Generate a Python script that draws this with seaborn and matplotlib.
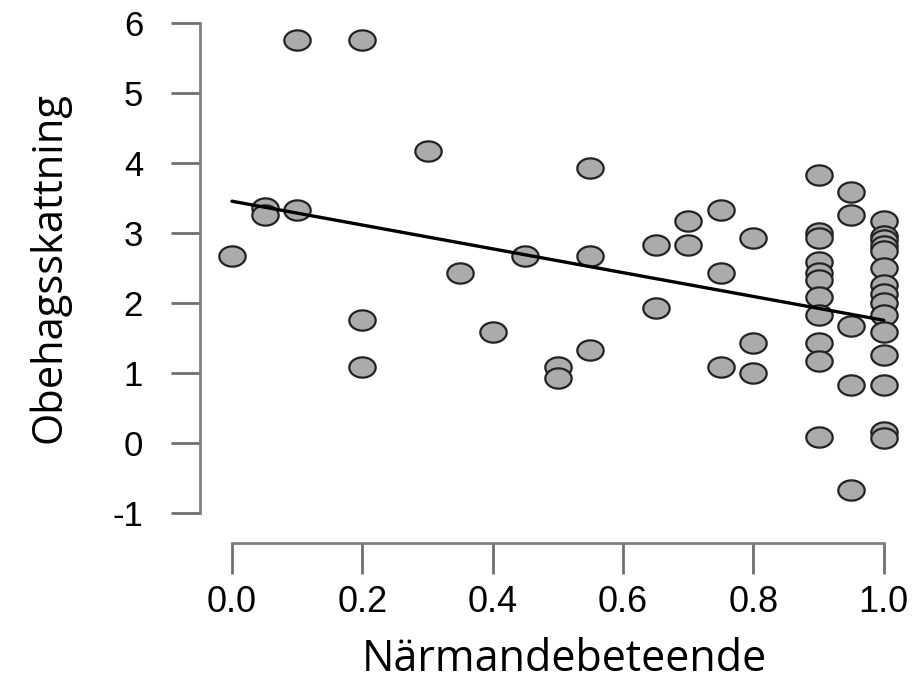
import numpy as np
import pandas as pd
import matplotlib
matplotlib.use("Agg")
import matplotlib.pyplot as plt
import seaborn as sns
from matplotlib.path import Path

# values
narmande = [0.0, 0.05, 0.05, 0.1, 0.1, 0.2, 0.2, 0.2, 0.3, 0.35, 0.4, 0.45,
            0.5, 0.5, 0.55, 0.55, 0.55, 0.65, 0.65, 0.7, 0.7, 0.75, 0.75, 0.75,
            0.8, 0.8, 0.8] + [0.9] * 11 + [0.95] * 5 + [1.0] * 15
obehag = [2.67, 3.36, 3.26, 5.75, 3.33, 5.75, 1.75, 1.08, 4.17, 2.42, 1.58, 2.67,
          1.08, 0.92, 3.92, 2.67, 1.33, 2.83, 1.92, 3.17, 2.83, 3.33, 2.42, 1.08,
          2.92, 1.42, 1.0,
          3.83, 3.0, 2.92, 2.58, 2.42, 2.33, 2.08, 1.83, 1.42, 1.17, 0.08,
          3.58, 3.25, 1.67, 0.83, -0.67,
          3.17, 2.96, 2.89, 2.81, 2.74, 2.5, 2.25, 2.12, 2.0, 1.83, 1.58, 1.25, 0.83, 0.15, 0.07]
# fitted line as drawn in the reference (end points)
fit_x = [0.0, 1.0]
fit_y = [3.45, 1.75]
xticks = [0.0, 0.2, 0.4, 0.6, 0.8, 1.0]
yticks = [-1, 0, 1, 2, 3, 4, 5, 6]

df = pd.DataFrame({"Närmandebeteende": narmande, "Obehagsskattning": obehag})
fit = pd.DataFrame({"x": fit_x, "y": fit_y})

sns.set_style("white")
plt.rcParams["font.family"] = ["Liberation Sans", "DejaVu Sans"]
plt.rcParams["text.color"] = "black"
plt.rcParams["axes.labelcolor"] = "black"
plt.rcParams["xtick.color"] = "black"
plt.rcParams["ytick.color"] = "black"

# the source image is stretched sideways, so the points are ellipses
t = np.linspace(0, 2 * np.pi, 60)
ellipse = Path(np.column_stack([1.3 * np.cos(t), np.sin(t)]), closed=True)

fig = plt.figure(figsize=(9.2, 6.82), dpi=100)
ax = fig.add_axes([0.2174, 0.2038, 0.7716, 0.7918])

sns.scatterplot(data=df, x="Närmandebeteende", y="Obehagsskattning", ax=ax,
                marker=ellipse, s=360, color="#ababab", edgecolor="#222222",
                linewidth=1.6, zorder=2)
sns.lineplot(data=fit, x="x", y="y", ax=ax, color="black", lw=2.4, zorder=3)

ax.set_xlim(-0.049, 1.04)
ax.set_ylim(-1.43, 6.28)
ax.set_xticks(xticks)
ax.set_xticklabels([f"{v:.1f}" for v in xticks])
ax.set_yticks(yticks)
ax.set_yticklabels([str(v) for v in yticks])

for side in ["top", "right"]:
    ax.spines[side].set_visible(False)
for side in ["left", "bottom"]:
    ax.spines[side].set_color("#808080")
    ax.spines[side].set_linewidth(2)
ax.spines["left"].set_bounds(-1, 6)
ax.spines["bottom"].set_bounds(0, 1)

ax.tick_params(axis="x", bottom=True, length=22, width=2, color="#707070",
               labelsize=26, pad=8)
ax.tick_params(axis="y", left=True, length=21, width=2, color="#707070",
               labelsize=25, pad=20)
ax.set_xlabel("Närmandebeteende", fontsize=31, family="Open Sans", labelpad=13)
ax.set_ylabel("Obehagsskattning", fontsize=30, family="Open Sans", labelpad=30)
ax.xaxis.label.set_x(0.513)
ax.yaxis.label.set_y(0.51)

fig.savefig("out.png", dpi=100)
